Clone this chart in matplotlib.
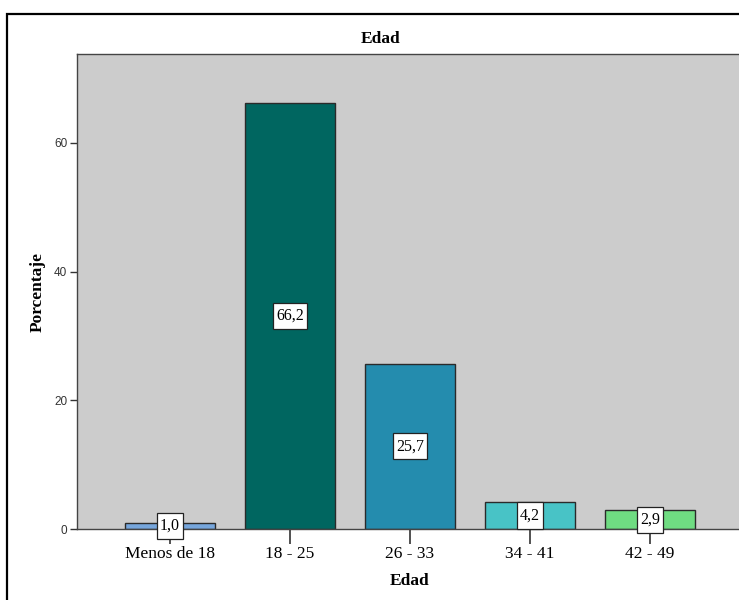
#!/usr/bin/env python3
import matplotlib
matplotlib.use('Agg')
import matplotlib.pyplot as plt
from matplotlib.patches import Rectangle

categories = ['Menos de 18', '18 - 25', '26 - 33', '34 - 41', '42 - 49']
percentages = [1.0, 66.2, 25.7, 4.2, 2.9]
bar_colors = ['#76a6dc', '#006660', '#248cae', '#48c3c6', '#6fdc82']
y_ticks = [0, 20, 40, 60]

serif = ['Liberation Serif', 'DejaVu Serif']
sans = ['Liberation Sans', 'DejaVu Sans']

fig = plt.figure(figsize=(7.39, 6.0), dpi=100)
fig.patch.set_facecolor('white')

# outer frame (runs off the right and bottom edge like the reference)
fig.patches.append(Rectangle((7 / 739, -0.05), 1.0, (600 - 14) / 600 + 0.05,
                             transform=fig.transFigure, fill=False,
                             edgecolor='black', linewidth=1.6, clip_on=False))

ax = fig.add_axes([77 / 739, 71 / 600, 666 / 739, 475 / 600])
ax.set_facecolor('#cccccc')

x = range(len(categories))
ax.bar(x, percentages, width=0.75, color=bar_colors, edgecolor='#2a2a2a',
       linewidth=1.0, zorder=2)

for xi, val in zip(x, percentages):
    ax.text(xi, val / 2, '{:.1f}'.format(val).replace('.', ','),
            ha='center', va='center', fontsize=11.5, family=serif, zorder=4,
            bbox=dict(boxstyle='square,pad=0.2', facecolor='white',
                      edgecolor='#222222', linewidth=0.9,
                      mutation_aspect=1.6))

ax.set_xlim(-0.775, 4.775)
ax.set_ylim(0, 73.8)
ax.set_xticks(list(x))
ax.set_xticklabels(categories, fontsize=12.5, family=serif)
ax.set_yticks(y_ticks)
ax.set_yticklabels([str(t) for t in y_ticks], fontsize=8.5, family=sans,
                   color='#333333')
ax.tick_params(axis='x', length=11, width=1.2, color='#333333', pad=1)
ax.tick_params(axis='y', length=5, width=1.0, color='#333333', pad=2)

for side in ['left', 'bottom', 'top', 'right']:
    ax.spines[side].set_color('#444444')
    ax.spines[side].set_linewidth(1.0)

ax.set_xlabel('Edad', fontsize=12.5, fontweight='bold', family=serif, labelpad=8)
ax.set_ylabel('Porcentaje', fontsize=12.5, fontweight='bold', family=serif,
              labelpad=6)
fig.text(381 / 739, 1 - 39 / 600, 'Edad', ha='center', va='center',
         fontsize=12.5, fontweight='bold', family=serif)

fig.savefig('out.png', dpi=100)
